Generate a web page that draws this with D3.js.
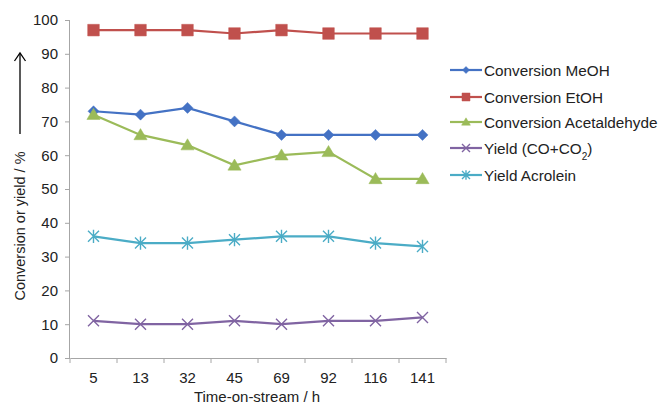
<!DOCTYPE html>
<html><head><meta charset="utf-8">
<script src="https://cdn.jsdelivr.net/npm/d3@7"></script>
<style>body{margin:0;background:#fff}text{font-family:"Liberation Sans",Arial,sans-serif;fill:#222}</style>
</head><body><svg id="c" width="659" height="405"></svg>
<script>
const categories = ["5","13","32","45","69","92","116","141"];
const meoh = [73,72,74,70,66,66,66,66];
const etoh = [97,97,97,96,97,96,96,96];
const acet = [72,66,63,57,60,61,53,53];
const coco2 = [11,10,10,11,10,11,11,12];
const acrolein = [36,34,34,35,36,36,34,33];
const yTicks = [0,10,20,30,40,50,60,70,80,90,100];

const series = [
  {name:"Conversion MeOH", values:meoh, color:"#4472C4", marker:"diamond"},
  {name:"Conversion EtOH", values:etoh, color:"#C0504D", marker:"square"},
  {name:"Conversion Acetaldehyde", values:acet, color:"#9BBB59", marker:"triangle"},
  {name:"Yield (CO+CO2)", values:coco2, color:"#8064A2", marker:"x"},
  {name:"Yield Acrolein", values:acrolein, color:"#4BACC6", marker:"star"}
];

const svg = d3.select("#c");
const L=70, R=446, T=20, B=358;
const x = d3.scaleBand().domain(categories).range([L,R]);
const y = d3.scaleLinear().domain([0,100]).range([B,T]);

const xa = svg.append("g").attr("transform",`translate(0,${B})`)
  .call(d3.axisBottom(x).tickSize(0).tickPadding(14));
xa.select(".domain").attr("stroke","#a6a6a6");
xa.selectAll("text").style("font-size","15px").attr("fill","#222");
const bounds = categories.map((c)=>x(c)).concat([R]);
svg.append("g").selectAll("line").data(bounds).join("line")
  .attr("x1",d=>d).attr("x2",d=>d).attr("y1",B).attr("y2",B+5).attr("stroke","#a6a6a6");

const ya = svg.append("g").attr("transform",`translate(${L},0)`)
  .call(d3.axisLeft(y).tickValues(yTicks).tickSize(5).tickPadding(7));
ya.select(".domain").attr("stroke","#a6a6a6").attr("d",`M-0.5,${B}V${T}`);
ya.selectAll(".tick line").attr("stroke","#a6a6a6");
ya.selectAll("text").style("font-size","15px").attr("fill","#222");

svg.append("text").attr("x",257).attr("y",402).attr("text-anchor","middle")
  .style("font-size","15px").text("Time-on-stream / h");
svg.append("text").attr("transform","translate(25,226) rotate(-90)").attr("text-anchor","middle")
  .style("font-size","14.5px").text("Conversion or yield / %");
svg.append("line").attr("x1",20).attr("x2",20).attr("y1",134).attr("y2",54).attr("stroke","#000").attr("stroke-width",1.3);
svg.append("path").attr("d","M14.5,61 L20,53 L25.5,61").attr("fill","none").attr("stroke","#000").attr("stroke-width",1.3);

function markerPath(type, s){
  switch(type){
    case "diamond": return `M0,${-s}L${s},0L0,${s}L${-s},0Z`;
    case "square": return `M${-s},${-s}H${s}V${s}H${-s}Z`;
    case "triangle": return `M0,${-s*1.05}L${s*1.1},${s*0.8}L${-s*1.1},${s*0.8}Z`;
    case "x": return `M${-s},${-s}L${s},${s}M${-s},${s}L${s},${-s}`;
    case "star": return `M${-s},${-s}L${s},${s}M${-s},${s}L${s},${-s}M0,${-s*1.2}V${s*1.2}`;
  }
}
function drawMarker(g, type, color, cx, cy, size){
  const filled = type!=="x" && type!=="star";
  g.append("path").attr("transform",`translate(${cx},${cy})`)
    .attr("d",markerPath(type,size))
    .attr("fill",filled?color:"none").attr("stroke",color)
    .attr("stroke-width",filled?0.5:1.4);
}
const sizes = {diamond:5.5, square:5.8, triangle:6, x:5.5, star:5.5};

const line = d3.line().x((d,i)=>x(categories[i])+x.bandwidth()/2).y(d=>y(d));
series.forEach(s=>{
  const g = svg.append("g");
  g.append("path").datum(s.values).attr("d",line).attr("fill","none")
    .attr("stroke",s.color).attr("stroke-width",2.2);
  s.values.forEach((v,i)=>drawMarker(g,s.marker,s.color,x(categories[i])+x.bandwidth()/2,y(v),sizes[s.marker]));
});

const legY = [70,97,122,148,175];
series.forEach((s,i)=>{
  const g = svg.append("g");
  const ly = legY[i];
  g.append("line").attr("x1",450).attr("x2",482).attr("y1",ly).attr("y2",ly).attr("stroke",s.color).attr("stroke-width",2.2);
  drawMarker(g,s.marker,s.color,466,ly,s.marker==="diamond"?3.5:4);
  const t = g.append("text").attr("x",484).attr("y",ly+5.5).style("font-size","15.3px");
  if(s.name==="Yield (CO+CO2)"){
    t.append("tspan").text("Yield (CO+CO");
    t.append("tspan").attr("baseline-shift","sub").style("font-size","10px").text("2");
    t.append("tspan").text(")");
  } else t.text(s.name);
});
</script></body></html>
